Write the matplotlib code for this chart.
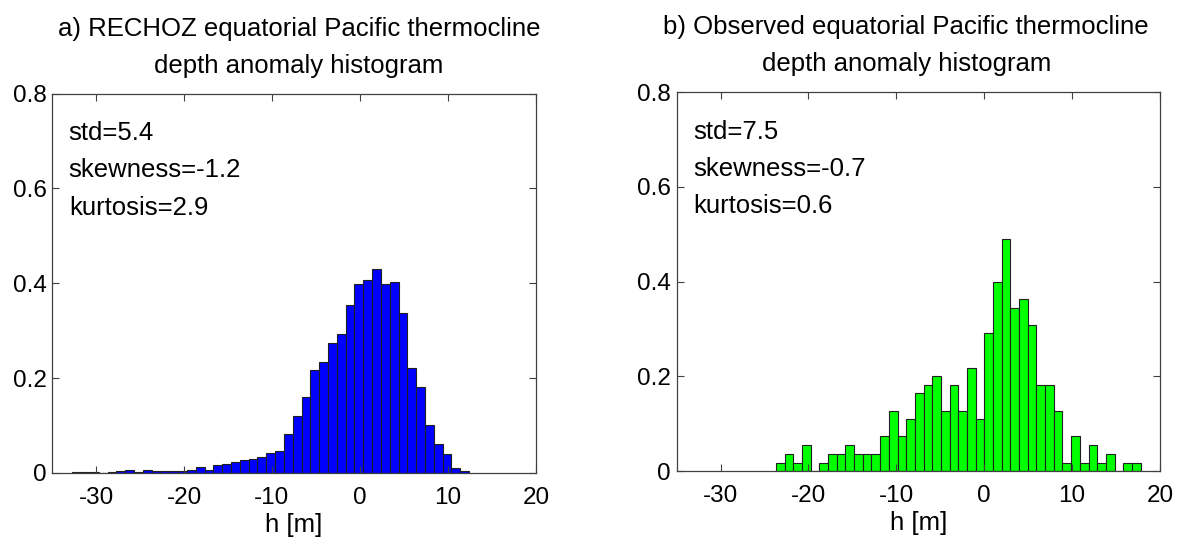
import numpy as np
import matplotlib
matplotlib.use('Agg')
import matplotlib.pyplot as plt

plt.rcParams['font.family'] = ['Liberation Sans', 'DejaVu Sans']
plt.rcParams['font.size'] = 18.5
plt.rcParams['axes.unicode_minus'] = False

# a) RECHOZ model histogram, 45 bins between min and max of h
rechoz_range = (-32.7, 12.4)
rechoz_pdf = [0.0015, 0.0015, 0.0015, 0.0, 0.002, 0.004, 0.006, 0.0015, 0.006, 0.004,
              0.004, 0.004, 0.004, 0.006, 0.013, 0.006, 0.016, 0.018, 0.023, 0.028,
              0.030, 0.033, 0.042, 0.047, 0.083, 0.120, 0.161, 0.217, 0.234, 0.274,
              0.293, 0.355, 0.398, 0.407, 0.431, 0.399, 0.402, 0.338, 0.221, 0.181,
              0.101, 0.062, 0.040, 0.011, 0.004]
rechoz_stats = ["std=5.4", "skewness=-1.2", "kurtosis=2.9"]

# b) observed histogram, 42 bins
obs_range = (-23.7, 17.8)
obs_pdf = [0.018, 0.036, 0.018, 0.055, 0.0, 0.018, 0.036, 0.036, 0.055, 0.036,
           0.036, 0.036, 0.073, 0.127, 0.073, 0.109, 0.164, 0.182, 0.200, 0.127,
           0.182, 0.127, 0.218, 0.109, 0.291, 0.400, 0.491, 0.345, 0.364, 0.309,
           0.182, 0.182, 0.127, 0.018, 0.073, 0.018, 0.055, 0.018, 0.036, 0.0,
           0.018, 0.018]
obs_stats = ["std=7.5", "skewness=-0.7", "kurtosis=0.6"]

titles = ["a) RECHOZ equatorial Pacific thermocline",
          "b) Observed equatorial Pacific thermocline"]
subtitle = "depth anomaly histogram"

fig = plt.figure(figsize=(11.83, 5.49), dpi=100)
ax1 = fig.add_axes([0.044, 0.1385, 0.409, 0.691])
ax2 = fig.add_axes([0.572, 0.142, 0.4085, 0.690])

panels = [(ax1, rechoz_range, rechoz_pdf, rechoz_stats, (0, 0, 1), titles[0], 0.51),
          (ax2, obs_range, obs_pdf, obs_stats, (0, 1, 0), titles[1], 0.475)]

for ax, rng, pdf, stats, col, ttl, tx in panels:
    edges = np.linspace(rng[0], rng[1], len(pdf) + 1)
    ax.bar(edges[:-1], pdf, width=np.diff(edges), align='edge',
           color=col, edgecolor='#202020', linewidth=0.8)
    ax.set_xlim(-35, 20)
    ax.set_ylim(0, 0.8)
    ax.set_xticks([-30, -20, -10, 0, 10, 20])
    ax.set_yticks([0, 0.2, 0.4, 0.6, 0.8])
    ax.set_yticklabels(['0', '0.2', '0.4', '0.6', '0.8'])
    ax.tick_params(direction='in', top=True, right=True, length=5, width=0.8,
                   color='#404040', labelsize=17.5)
    ax.tick_params(axis='x', pad=10)
    ax.tick_params(axis='y', pad=4)
    for s in ax.spines.values():
        s.set_color('#404040')
        s.set_linewidth(0.9)
    ax.set_xlabel("h [m]", labelpad=3)
    for i, s in enumerate(stats):
        ax.text(-33.1, 0.717 - 0.079 * i, s, va='center', ha='left')
    # two-line title, drawn as separate texts to control the line gap
    ax.text(tx, 1.153, ttl, transform=ax.transAxes, ha='center', va='baseline')
    ax.text(tx, 1.055, subtitle, transform=ax.transAxes, ha='center', va='baseline')

fig.savefig("out.png", dpi=100)
